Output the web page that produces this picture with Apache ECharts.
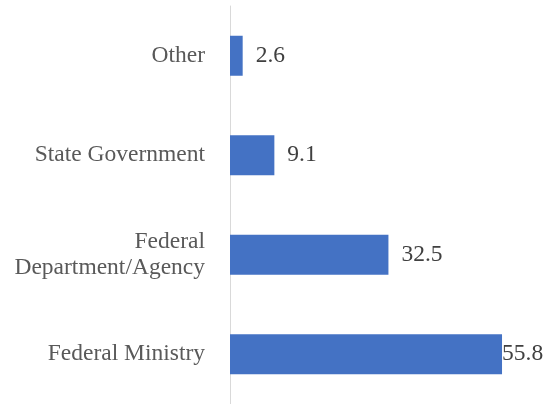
<!DOCTYPE html>
<html><head><meta charset="utf-8">
<script src="https://cdn.jsdelivr.net/npm/echarts@6/dist/echarts.min.js"></script>
<style>html,body{margin:0;padding:0;background:#fff}#c{width:552px;height:404px}</style>
</head><body><div id="c"></div>
<script>
var categories = ['Federal Ministry', 'Federal\nDepartment/Agency', 'State Government', 'Other'];
var values = [55.8, 32.5, 9.1, 2.6];
var labelDistances = [0, 13, 13, 13];
var chart = echarts.init(document.getElementById('c'));
chart.setOption({
  animation: false,
  grid: {left: 230, right: 29.5, top: 6, bottom: -2},
  xAxis: {type: 'value', min: 0, max: 60, show: false},
  yAxis: {
    type: 'category', data: categories,
    axisLine: {show: true, lineStyle: {color: '#d9d9d9', width: 1}},
    axisTick: {show: false},
    axisLabel: {fontFamily: '"Liberation Serif", "Times New Roman", serif', fontSize: 23.5, color: '#595959', margin: 25, lineHeight: 26, align: 'right'}
  },
  series: [{
    type: 'bar',
    barWidth: 40,
    itemStyle: {color: '#4472C4'},
    data: values.map(function (v, i) {
      return {value: v, label: {distance: labelDistances[i]}};
    }),
    label: {show: true, position: 'right', fontFamily: '"Liberation Serif", "Times New Roman", serif', fontSize: 23.5, color: '#404040'}
  }]
});
</script></body></html>
